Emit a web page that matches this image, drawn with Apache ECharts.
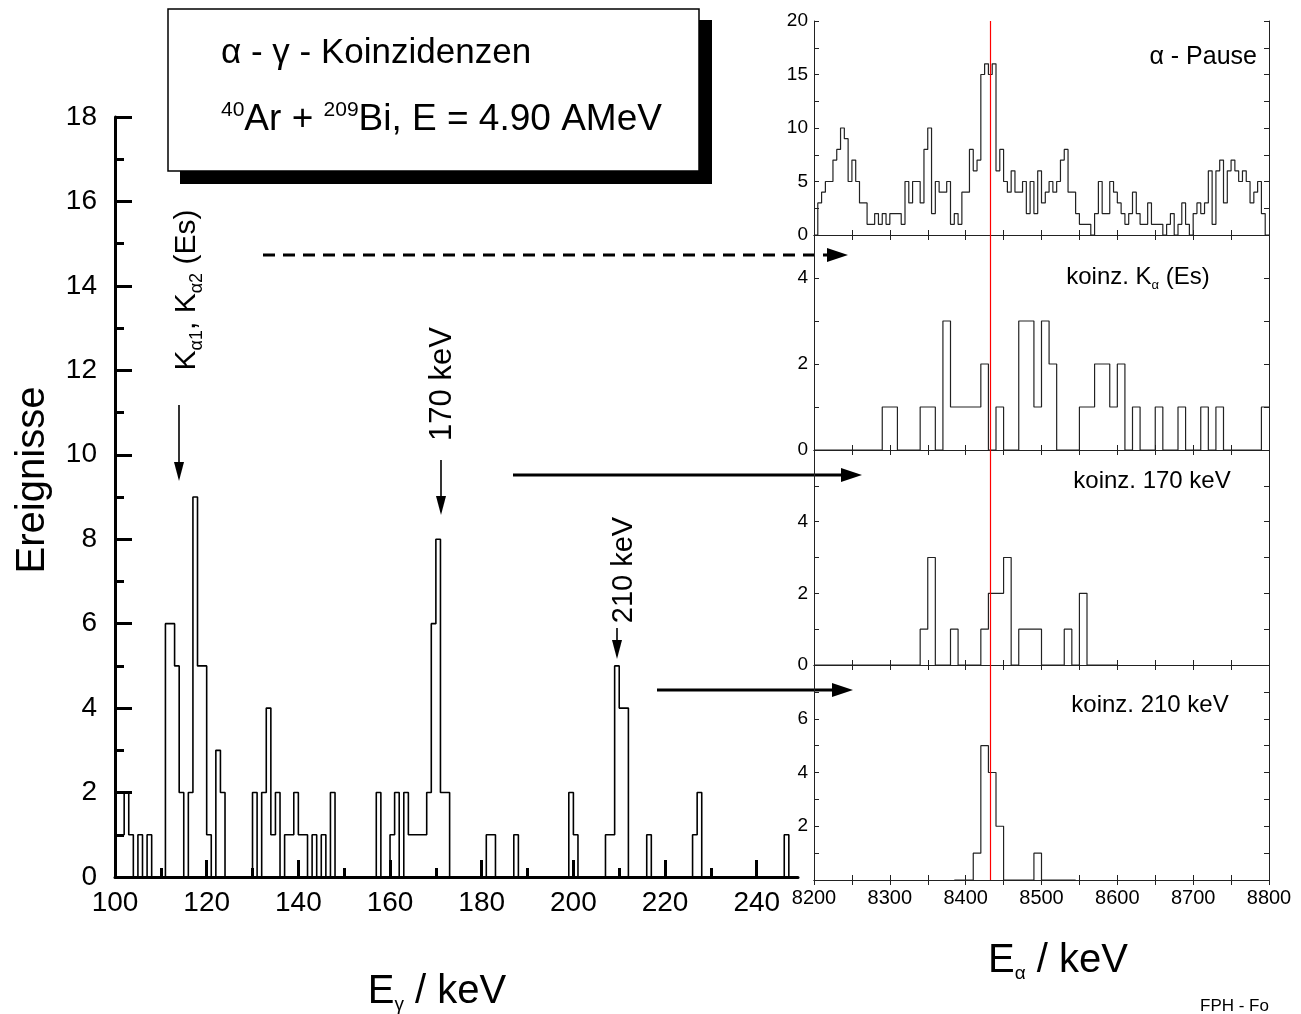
<!DOCTYPE html>
<html>
<head>
<meta charset="utf-8">
<script src="https://cdn.jsdelivr.net/npm/echarts@6/dist/echarts.min.js"></script>
<style>
  html, body { margin: 0; padding: 0; background: #fff; }
  #chart { width: 1301px; height: 1014px; }
</style>
</head>
<body>
<div id="chart"></div>
<script>
// gamma spectrum, 1 keV bins from 100 keV
const gammaStart = 100
const gammaBin = 1
const gammaCounts = [
  1, 1, 2, 1, 0, 1, 0, 1, 0, 0,
  0, 6, 6, 5, 2, 0, 2, 9, 5, 5,
  1, 0, 3, 2, 0, 0, 0, 0, 0, 0,
  2, 0, 2, 4, 1, 2, 0, 1, 1, 2,
  1, 1, 0, 1, 0, 1, 0, 2, 0, 0,
  0, 0, 0, 0, 0, 0, 0, 2, 0, 0,
  1, 2, 0, 2, 1, 1, 1, 1, 2, 6,
  8, 2, 2, 0, 0, 0, 0, 0, 0, 0,
  0, 1, 1, 0, 0, 0, 0, 1, 0, 0,
  0, 0, 0, 0, 0, 0, 0, 0, 0, 2,
  1, 0, 0, 0, 0, 0, 0, 1, 1, 5,
  4, 4, 0, 0, 0, 0, 1, 0, 0, 0,
  0, 0, 0, 0, 0, 0, 1, 2, 0, 0,
  0, 0, 0, 0, 0, 0, 0, 0, 0, 0,
  0, 0, 0, 0, 0, 0, 1, 0, 0
]
const gammaTicks = [120, 140, 160, 180, 200, 220, 240]
const gammaMinorTicks = [110, 130, 150, 170, 190, 210, 230]
const gammaLabels = [100, 120, 140, 160, 180, 200, 220, 240]

// alpha spectra
const redLineE = 8433
// alpha - Pause, 5 keV bins from 8200
const pauseStart = 8200
const pauseBin = 5
const pauseCounts = [
  0, 3, 4, 5, 5, 7, 8, 10, 9, 5, 7, 5, 3, 3, 1, 1, 2, 1, 2, 1,
  2, 2, 2, 1, 5, 3, 5, 5, 3, 8, 10, 2, 5, 4, 4, 5, 1, 2, 1, 4,
  4, 8, 6, 7, 15, 16, 15, 16, 6, 8, 5, 4, 6, 4, 4, 5, 2, 5, 2, 6,
  3, 4, 5, 4, 5, 7, 8, 4, 4, 2, 1, 1, 1, 0, 2, 5, 2, 2, 5, 4,
  3, 2, 1, 2, 4, 2, 1, 1, 3, 1, 1, 1, 0, 1, 2, 0, 1, 3, 1, 0,
  2, 3, 2, 3, 6, 1, 6, 7, 3, 6, 7, 6, 5, 6, 5, 3, 4, 5, 2, 0
]
// koinz. K-alpha (Es), 10 keV bins from 8200
const kaStart = 8200
const kaBin = 10
const kaCounts = [
  0, 0, 0, 0, 0, 0, 0, 0, 0, 1, 1, 0, 0, 0, 1, 1, 0, 3, 1, 1,
  1, 1, 2, 0, 1, 0, 0, 3, 3, 1, 3, 2, 0, 0, 0, 1, 1, 2, 2, 1,
  2, 0, 1, 0, 0, 1, 0, 0, 1, 0, 0, 1, 0, 1, 0, 0, 0, 0, 0, 1
]
// koinz. 170 keV, 10 keV bins from 8200
const k170Start = 8200
const k170Bin = 10
const k170Counts = [
  0, 0, 0, 0, 0, 0, 0, 0, 0, 0, 0, 0, 0, 0, 1, 3, 0, 0, 1, 0,
  0, 0, 1, 2, 2, 3, 0, 1, 1, 1, 0, 0, 0, 1, 0, 2, 0, 0, 0, 0
]
// koinz. 210 keV, 5 keV bins from 8385
const k210Start = 8385
const k210Bin = 5
const k210Counts = [
  0, 0, 0, 0, 0, 1, 1, 5, 5, 4, 4, 2, 2, 0, 0, 0, 0, 0, 0, 0,
  0, 1, 1, 0, 0, 0, 0, 0, 0, 0, 0, 0
]

function stepData(start, width, counts) {
  const d = counts.map((c, i) => [start + i * width, c])
  d.push([start + counts.length * width, counts[counts.length - 1]])
  return d
}

const FONT = 'Liberation Sans, Arial, sans-serif'

// right panels
const panels = [
  { top: 21, height: 214, max: 20, interval: 2.5, every: 5, showZero: true,
    data: stepData(pauseStart, pauseBin, pauseCounts) },
  { top: 235, height: 215, max: 5, interval: 1, every: 2, showZero: true,
    data: stepData(kaStart, kaBin, kaCounts) },
  { top: 450, height: 215, max: 6, interval: 1, every: 2, showZero: true, hideMax: true,
    data: stepData(k170Start, k170Bin, k170Counts) },
  { top: 665, height: 215, max: 8, interval: 1, every: 2, showZero: false, hideMax: true,
    data: stepData(k210Start, k210Bin, k210Counts) }
]

const grid = [{ left: 115, top: 117, width: 683, height: 760, outerBoundsMode: 'none' }]
const xAxis = [
  {
    gridIndex: 0, type: 'value', min: 100, max: 249, position: 'bottom',
    axisLine: { lineStyle: { color: '#000', width: 3 } },
    axisTick: { inside: true, length: 17, lineStyle: { color: '#000', width: 3 }, customValues: gammaTicks },
    axisLabel: { customValues: gammaLabels, fontSize: 28, fontFamily: FONT, color: '#000', margin: 12 },
    splitLine: { show: false }
  },
  {
    gridIndex: 0, type: 'value', min: 100, max: 249, position: 'bottom',
    axisLine: { show: false },
    axisTick: { inside: true, length: 9, lineStyle: { color: '#000', width: 3 }, customValues: gammaMinorTicks },
    axisLabel: { show: false },
    splitLine: { show: false }
  }
]
const yAxis = [
  {
    gridIndex: 0, type: 'value', min: 0, max: 18, interval: 2,
    axisLine: { show: true, lineStyle: { color: '#000', width: 3 } },
    axisTick: { show: true, inside: true, length: 17, lineStyle: { color: '#000', width: 3 } },
    minorTick: { show: true, splitNumber: 2, length: 9, lineStyle: { color: '#000', width: 3 } },
    axisLabel: { fontSize: 28, fontFamily: FONT, color: '#000', margin: 18 },
    splitLine: { show: false }
  }
]
const series = [
  {
    type: 'line', xAxisIndex: 0, yAxisIndex: 0, step: 'end',
    data: stepData(gammaStart, gammaBin, gammaCounts),
    showSymbol: false, lineStyle: { color: '#000', width: 1.6 }, silent: true
  }
]

const thinLine = { show: true, lineStyle: { color: '#222', width: 1 } }
const thinTick = { show: true, inside: true, length: 5, lineStyle: { color: '#222', width: 1 } }

panels.forEach((p, i) => {
  const g = i + 1
  grid.push({ left: 814, top: p.top, width: 455, height: p.height, outerBoundsMode: 'none' })
  const last = i === panels.length - 1
  xAxis.push({
    gridIndex: g, type: 'value', min: 8200, max: 8800, interval: 50, position: 'bottom',
    axisLine: thinLine, axisTick: thinTick, splitLine: { show: false },
    axisLabel: {
      show: last, fontSize: 20, fontFamily: FONT, color: '#000', margin: 8,
      formatter: v => (v % 100 === 0 ? String(v) : '')
    }
  })
  xAxis.push({
    gridIndex: g, type: 'value', min: 8200, max: 8800, interval: 50, position: 'top',
    axisLine: thinLine, axisTick: thinTick, splitLine: { show: false },
    axisLabel: { show: false }
  })
  yAxis.push({
    gridIndex: g, type: 'value', min: 0, max: p.max, interval: p.interval, position: 'left',
    axisLine: thinLine, axisTick: thinTick, splitLine: { show: false },
    axisLabel: {
      fontSize: 19, fontFamily: FONT, color: '#000', margin: 6,
      formatter: v => {
        if (v === 0 && !p.showZero) return ''
        if (v === p.max && p.hideMax) return ''
        return v % p.every === 0 ? String(v) : ''
      }
    }
  })
  yAxis.push({
    gridIndex: g, type: 'value', min: 0, max: p.max, interval: p.interval, position: 'right',
    axisLine: thinLine, axisTick: thinTick, splitLine: { show: false },
    axisLabel: { show: false }
  })
  series.push({
    type: 'line', xAxisIndex: 2 + 2 * i, yAxisIndex: 1 + 2 * i, step: 'end',
    data: p.data, showSymbol: false, silent: true,
    lineStyle: { color: '#222', width: 1.2 },
    markLine: {
      silent: true, symbol: 'none', label: { show: false },
      lineStyle: { color: '#ff0000', width: 1.2, type: 'solid' },
      data: [{ xAxis: redLineE }]
    }
  })
})

function arrow(x1, x2, y, dashed) {
  return [
    {
      type: 'line', shape: { x1: x1, y1: y, x2: x2 - 16, y2: y },
      style: { stroke: '#000', lineWidth: 3, lineDash: dashed ? [12, 8] : null }
    },
    {
      type: 'polygon', shape: { points: [[x2 - 21, y - 7], [x2, y], [x2 - 21, y + 7]] },
      style: { fill: '#000' }
    }
  ]
}
function downArrow(x, y1, y2) {
  return [
    { type: 'line', shape: { x1: x, y1: y1, x2: x, y2: y2 - 14 }, style: { stroke: '#000', lineWidth: 1.6 } },
    { type: 'polygon', shape: { points: [[x - 5, y2 - 19], [x, y2], [x + 5, y2 - 19]] }, style: { fill: '#000' } }
  ]
}

const graphic = [
  // title box with shadow
  { type: 'rect', shape: { x: 180, y: 20, width: 532, height: 164 }, style: { fill: '#000' } },
  { type: 'rect', shape: { x: 168, y: 9, width: 531, height: 162 }, style: { fill: '#fff', stroke: '#000', lineWidth: 1.5 } },
  {
    type: 'text', x: 221, y: 53,
    style: { text: 'α - γ - Koinzidenzen', font: '35px ' + FONT, fill: '#000', verticalAlign: 'middle' }
  },
  {
    type: 'text', x: 221, y: 120,
    style: {
      text: '{sup|40}Ar + {sup|209}Bi, E = 4.90 AMeV', fontSize: 37, fontFamily: FONT, fill: '#000',
      verticalAlign: 'middle', lineHeight: 40,
      rich: { sup: { fontSize: 21, fontFamily: FONT, verticalAlign: 'top', lineHeight: 21 } }
    }
  },
  // peak annotations
  {
    type: 'text', x: 187, y: 290, rotation: Math.PI / 2,
    style: {
      text: 'K{s|α1}, K{s|α2} (Es)', fontSize: 30, fontFamily: FONT, fill: '#000',
      align: 'center', verticalAlign: 'middle', lineHeight: 38,
      rich: { s: { fontSize: 18, fontFamily: FONT, verticalAlign: 'bottom', lineHeight: 38 } }
    }
  },
  ...downArrow(179, 405, 481),
  {
    type: 'text', x: 442, y: 384, rotation: Math.PI / 2,
    style: { text: '170 keV', font: '31px ' + FONT, fill: '#000', align: 'center', verticalAlign: 'middle' }
  },
  ...downArrow(441, 460, 515),
  {
    type: 'text', x: 624, y: 570, rotation: Math.PI / 2,
    style: { text: '210 keV', font: '29px ' + FONT, fill: '#000', align: 'center', verticalAlign: 'middle' }
  },
  ...downArrow(617, 628, 659),
  ...arrow(263, 848, 255, true),
  ...arrow(513, 862, 475, false),
  ...arrow(657, 853, 690, false),
  // axis titles
  {
    type: 'text', x: 33, y: 480, rotation: Math.PI / 2,
    style: { text: 'Ereignisse', font: '40px ' + FONT, fill: '#000', align: 'center', verticalAlign: 'middle' }
  },
  {
    type: 'text', x: 437, y: 992,
    style: {
      text: 'E{s|γ} / keV', fontSize: 40, fontFamily: FONT, fill: '#000', align: 'center', verticalAlign: 'middle',
      lineHeight: 44, rich: { s: { fontSize: 19, fontFamily: FONT, verticalAlign: 'bottom', lineHeight: 44 } }
    }
  },
  {
    type: 'text', x: 1058, y: 961,
    style: {
      text: 'E{s|α} / keV', fontSize: 40, fontFamily: FONT, fill: '#000', align: 'center', verticalAlign: 'middle',
      lineHeight: 44, rich: { s: { fontSize: 19, fontFamily: FONT, verticalAlign: 'bottom', lineHeight: 44 } }
    }
  },
  // panel captions
  {
    type: 'text', x: 1257, y: 57,
    style: { text: 'α - Pause', font: '25px ' + FONT, fill: '#000', align: 'right', verticalAlign: 'middle' }
  },
  {
    type: 'text', x: 1138, y: 277,
    style: {
      text: 'koinz. K{s|α} (Es)', fontSize: 24, fontFamily: FONT, fill: '#000', align: 'center', verticalAlign: 'middle',
      lineHeight: 30, rich: { s: { fontSize: 13, fontFamily: FONT, verticalAlign: 'bottom', lineHeight: 30 } }
    }
  },
  {
    type: 'text', x: 1152, y: 481,
    style: { text: 'koinz. 170 keV', font: '24px ' + FONT, fill: '#000', align: 'center', verticalAlign: 'middle' }
  },
  {
    type: 'text', x: 1150, y: 705,
    style: { text: 'koinz. 210 keV', font: '24px ' + FONT, fill: '#000', align: 'center', verticalAlign: 'middle' }
  },
  {
    type: 'text', x: 1200, y: 1006,
    style: { text: 'FPH - Fo', font: '17px ' + FONT, fill: '#000', verticalAlign: 'middle' }
  }
]

const chart = echarts.init(document.getElementById('chart'))
chart.setOption({
  backgroundColor: '#fff',
  animation: false,
  grid: grid,
  xAxis: xAxis,
  yAxis: yAxis,
  series: series,
  graphic: graphic
})
</script>
</body>
</html>
